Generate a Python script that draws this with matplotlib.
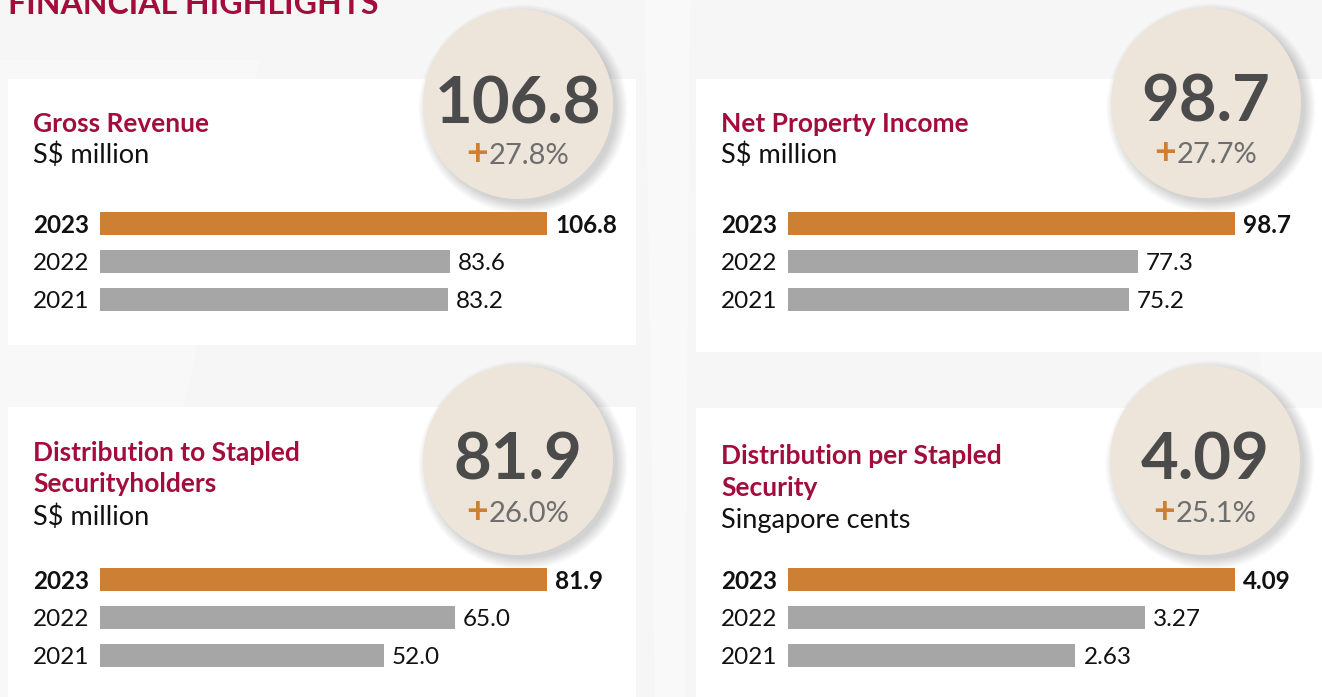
import matplotlib
matplotlib.use("Agg")
import matplotlib.pyplot as plt
from matplotlib.patches import Rectangle, Circle

plt.rcParams["font.family"] = ["Lato", "DejaVu Sans"]

W, H = 1322, 697

# data
years = ["2023", "2022", "2021"]
titles = [
    ["Gross Revenue"],
    ["Net Property Income"],
    ["Distribution to Stapled", "Securityholders"],
    ["Distribution per Stapled", "Security"],
]
units = ["S$ million", "S$ million", "S$ million", "Singapore cents"]
gross_revenue = [106.8, 83.6, 83.2]
net_property_income = [98.7, 77.3, 75.2]
distribution_total = [81.9, 65.0, 52.0]
distribution_per_security = [4.09, 3.27, 2.63]
value_labels = [
    ["106.8", "83.6", "83.2"],
    ["98.7", "77.3", "75.2"],
    ["81.9", "65.0", "52.0"],
    ["4.09", "3.27", "2.63"],
]
growth = ["27.8%", "27.7%", "26.0%", "25.1%"]

series = [gross_revenue, net_property_income, distribution_total, distribution_per_security]

CRIMSON = "#A30D3B"
ORANGE = "#CD8033"
GREY_BAR = "#A6A6A6"
CIRCLE = "#EDE5DA"
NUM_GREY = "#4B4B4B"
PCT_GREY = "#6E6E6E"

# panel layout in pixels
cards = [(8, 79, 628, 266), (696, 79, 640, 273), (8, 407, 628, 300), (696, 408, 640, 300)]
circles = [(518, 104), (1206, 103), (518, 460), (1205, 460)]
text_x = [33, 721, 33, 721]
title_base = [[132], [132], [461, 492], [464, 496]]
unit_base = [163, 163, 525, 528]
num_base = [123, 122, 480, 479]
pct_base = [164, 163, 522, 522]
bar_x0 = [100, 788, 100, 788]
bar_top = [204.5, 204.5, 560.5, 560.5]
ROW = 38
BAR_LEN = 447

fig = plt.figure(figsize=(W / 100, H / 100), dpi=100)
fig.patch.set_facecolor("#F6F6F6")

bg = fig.add_axes([0, 0, 1, 1])
bg.set_xlim(0, W)
bg.set_ylim(H, 0)
bg.axis("off")

# faint background swooshes
bg.fill([0, 260, 120, 0], [60, 60, 697, 697], color="white", alpha=0.3, lw=0)
bg.fill([645, 690, 685, 655], [0, 0, 697, 697], color="white", alpha=0.35, lw=0)
bg.fill([1260, 1322, 1322, 1295], [350, 320, 697, 697], color="white", alpha=0.3, lw=0)

bg.text(8, 14, "FINANCIAL HIGHLIGHTS", color=CRIMSON, fontsize=23,
        fontweight="bold", ha="left", va="baseline")

for i in range(4):
    x, y, w, h = cards[i]
    bg.add_patch(Rectangle((x, y), w, h, facecolor="white", edgecolor="none"))

    cx, cy = circles[i]
    # soft shadow
    for k in range(9):
        bg.add_patch(Circle((cx + 5, cy + 5), 94 + k * 1.3, facecolor="#000000",
                            alpha=0.02, edgecolor="none"))
    bg.add_patch(Circle((cx, cy), 95, facecolor=CIRCLE, edgecolor="none"))

    bg.text(cx, num_base[i], value_labels[i][0], color=NUM_GREY, fontsize=47,
            fontweight="bold", ha="center", va="baseline")
    bg.text(cx - 30, pct_base[i] + 1, "+", color=ORANGE, fontsize=27, fontweight="bold",
            ha="right", va="baseline")
    bg.text(cx - 29, pct_base[i], growth[i], color=PCT_GREY, fontsize=21,
            ha="left", va="baseline")

    for line, yb in zip(titles[i], title_base[i]):
        bg.text(text_x[i], yb, line, color=CRIMSON, fontsize=19, fontweight="bold",
                ha="left", va="baseline")
    bg.text(text_x[i], unit_base[i], units[i], color="#111111", fontsize=19.5,
            ha="left", va="baseline")

    # bar chart
    ax = fig.add_axes([bar_x0[i] / W, 1 - (bar_top[i] + 3 * ROW) / H,
                       BAR_LEN / W, 3 * ROW / H])
    vals = series[i]
    colors = [ORANGE, GREY_BAR, GREY_BAR]
    ax.barh(range(3), vals, height=23 / ROW, color=colors, left=0)
    ax.set_xlim(0, max(vals))
    ax.set_ylim(2.5, -0.5)
    ax.axis("off")
    for j in range(3):
        weight = "bold" if j == 0 else "normal"
        ax.annotate(years[j], xy=(0, j), xytext=(-67, -2), textcoords="offset pixels",
                    ha="left", va="center", fontsize=17.5, fontweight=weight,
                    color="#111111", annotation_clip=False)
        ax.annotate(value_labels[i][j], xy=(vals[j], j), xytext=(8, -2),
                    textcoords="offset pixels", ha="left", va="center",
                    fontsize=17.5, fontweight=weight, color="#111111",
                    annotation_clip=False)

fig.savefig("out.png", dpi=100, facecolor=fig.get_facecolor())
